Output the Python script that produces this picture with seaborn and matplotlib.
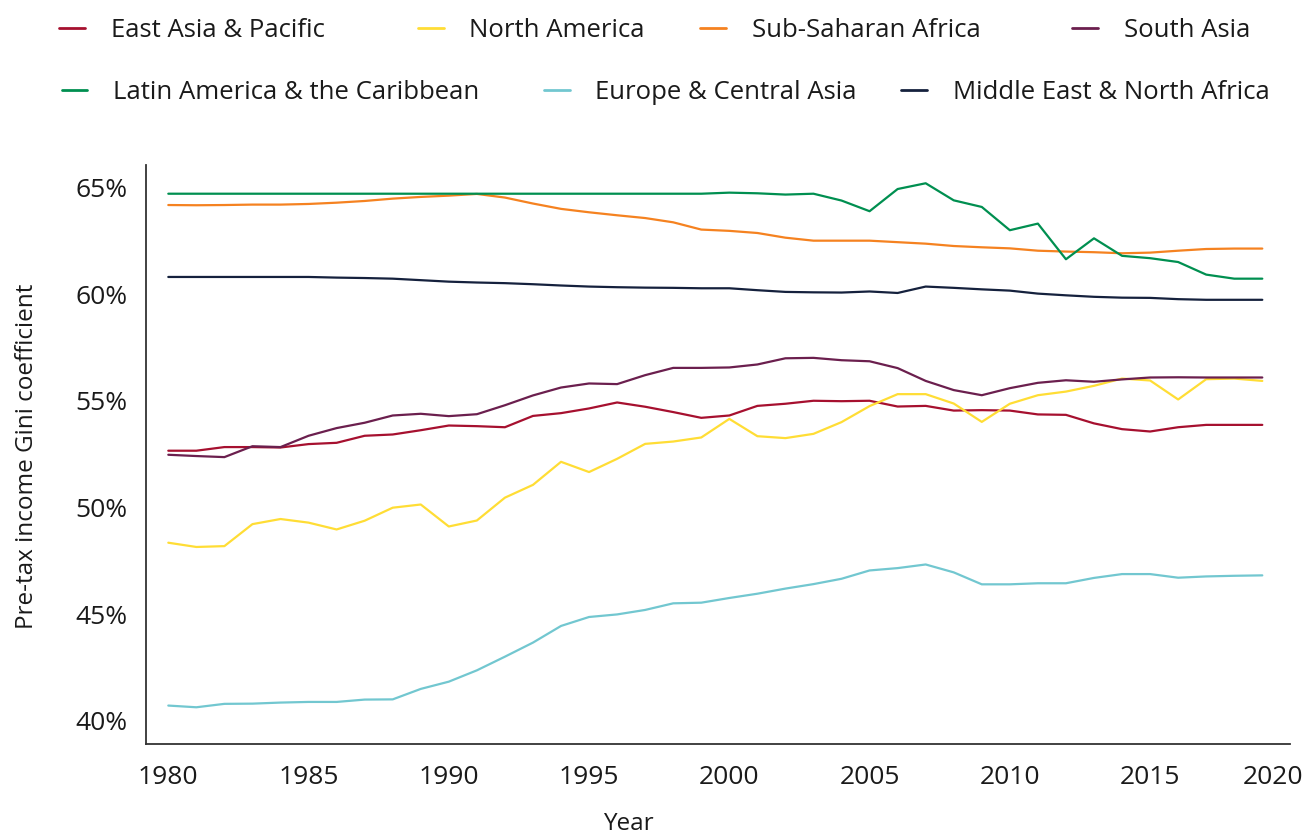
import numpy as np
import pandas as pd
import matplotlib
matplotlib.use("Agg")
import matplotlib.pyplot as plt
from matplotlib.lines import Line2D
import matplotlib.transforms as mtransforms
import seaborn as sns

years = list(range(1980, 2020))

east_asia = [52.66, 52.66, 52.83, 52.83, 52.81, 52.97, 53.03, 53.36, 53.42, 53.62,
             53.84, 53.81, 53.76, 54.29, 54.42, 54.64, 54.92, 54.72, 54.47, 54.20,
             54.31, 54.76, 54.86, 55.00, 54.98, 55.00, 54.73, 54.76, 54.54, 54.56,
             54.54, 54.36, 54.34, 53.94, 53.67, 53.56, 53.76, 53.87, 53.87, 53.87]
north_america = [48.35, 48.15, 48.19, 49.22, 49.46, 49.29, 48.97, 49.38, 49.99, 50.14,
                 49.11, 49.39, 50.46, 51.06, 52.14, 51.66, 52.28, 52.98, 53.09, 53.28,
                 54.15, 53.34, 53.25, 53.45, 54.00, 54.75, 55.31, 55.31, 54.87, 54.01,
                 54.86, 55.26, 55.43, 55.70, 56.04, 55.95, 55.06, 56.01, 56.04, 55.93]
sub_saharan = [64.17, 64.16, 64.17, 64.19, 64.19, 64.22, 64.28, 64.36, 64.47, 64.55,
               64.61, 64.69, 64.52, 64.24, 63.99, 63.83, 63.69, 63.56, 63.36, 63.02,
               62.96, 62.86, 62.64, 62.50, 62.50, 62.50, 62.43, 62.36, 62.25, 62.19,
               62.14, 62.03, 61.99, 61.96, 61.91, 61.94, 62.03, 62.11, 62.13, 62.13]
south_asia = [52.47, 52.41, 52.36, 52.87, 52.83, 53.36, 53.72, 53.97, 54.31, 54.39,
              54.28, 54.37, 54.79, 55.25, 55.62, 55.81, 55.78, 56.20, 56.54, 56.54,
              56.56, 56.70, 56.99, 57.01, 56.90, 56.85, 56.53, 55.93, 55.50, 55.26,
              55.59, 55.84, 55.96, 55.89, 56.00, 56.09, 56.10, 56.09, 56.09, 56.09]
latin_america = [64.70] * 20 + [64.75, 64.72, 64.66, 64.70, 64.38, 63.88, 64.92, 65.19, 64.39, 64.08,
                                62.99, 63.30, 61.63, 62.61, 61.79, 61.68, 61.50, 60.91, 60.72, 60.72]
europe_central = [40.72, 40.64, 40.80, 40.81, 40.86, 40.89, 40.89, 41.00, 41.01, 41.50,
                  41.84, 42.37, 43.01, 43.67, 44.45, 44.87, 44.99, 45.20, 45.51, 45.54,
                  45.76, 45.96, 46.20, 46.41, 46.66, 47.05, 47.16, 47.33, 46.96, 46.40,
                  46.40, 46.45, 46.45, 46.70, 46.88, 46.88, 46.71, 46.77, 46.80, 46.82]
middle_east = [60.80, 60.80, 60.80, 60.80, 60.80, 60.80, 60.77, 60.75, 60.72, 60.65,
               60.58, 60.54, 60.51, 60.46, 60.40, 60.35, 60.32, 60.30, 60.29, 60.27,
               60.27, 60.18, 60.10, 60.08, 60.07, 60.12, 60.05, 60.35, 60.29, 60.22,
               60.16, 60.02, 59.94, 59.87, 59.83, 59.82, 59.76, 59.73, 59.73, 59.73]

regions = ["East Asia & Pacific", "North America", "Sub-Saharan Africa", "South Asia",
           "Latin America & the Caribbean", "Europe & Central Asia", "Middle East & North Africa"]
series = [east_asia, north_america, sub_saharan, south_asia,
          latin_america, europe_central, middle_east]
colors = ["#a6102f", "#ffdd35", "#f58220", "#6b1f4e", "#008f50", "#72c7d0", "#15213d"]

y_ticks = [40, 45, 50, 55, 60, 65]
y_tick_labels = ["40%", "45%", "50%", "55%", "60%", "65%"]
x_ticks = [1980, 1985, 1990, 1995, 2000, 2005, 2010, 2015, 2020]

df = pd.DataFrame({
    "Year": np.tile(years, len(regions)),
    "Gini": np.concatenate(series),
    "Region": np.repeat(regions, len(years)),
})

sns.set_theme(style="white")
plt.rcParams["font.family"] = ["Open Sans", "DejaVu Sans"]

fig = plt.figure(figsize=(13.14, 8.35), dpi=100)
ax = fig.add_axes([0.111, 0.109, 0.871, 0.693])

palette = dict(zip(regions, colors))
sns.lineplot(data=df, x="Year", y="Gini", hue="Region", palette=palette,
             hue_order=regions, linewidth=1.6, legend=False, ax=ax)

ax.set_xlim(1979.2, 2020.0)
ax.set_ylim(38.92, 66.03)
ax.set_yticks(y_ticks)
ax.set_yticklabels(y_tick_labels)
ax.set_xticks(x_ticks)
ax.tick_params(axis="both", length=0, labelsize=19, colors="#1a1a1a")
ax.tick_params(axis="x", pad=15)
ax.tick_params(axis="y", pad=13)
for s in ["top", "right"]:
    ax.spines[s].set_visible(False)
for s in ["left", "bottom"]:
    ax.spines[s].set_color("#333333")
    ax.spines[s].set_linewidth(1.3)
ax.set_xlabel("Year", fontsize=17.5, color="#1a1a1a")
ax.set_ylabel("Pre-tax income Gini coefficient", fontsize=17.5, color="#1a1a1a")
ax.xaxis.set_label_coords(0.422, -0.117)
ax.yaxis.set_label_coords(-0.093, 0.497)
ax.grid(False)

# keep the last x tick label inside the canvas
last = ax.get_xticklabels()[-1]
last.set_transform(last.get_transform() + mtransforms.ScaledTranslation(-0.17, 0, fig.dpi_scale_trans))

# legend layout (two rows, free positions)
legend_pos = [(0.045, 0.964), (0.318, 0.964), (0.533, 0.964), (0.816, 0.964),
              (0.047, 0.889), (0.414, 0.889), (0.686, 0.889)]
for reg, col, (lx, ly) in zip(regions, colors, legend_pos):
    h = Line2D([0], [0], color=col, linewidth=2)
    fig.legend([h], [reg], loc="center left", bbox_to_anchor=(lx, ly),
               frameon=False, fontsize=18.5, handlelength=1.0, handletextpad=1.0,
               borderpad=0, borderaxespad=0, labelcolor="#1a1a1a")

fig.savefig("out.png", dpi=100, facecolor="white")
